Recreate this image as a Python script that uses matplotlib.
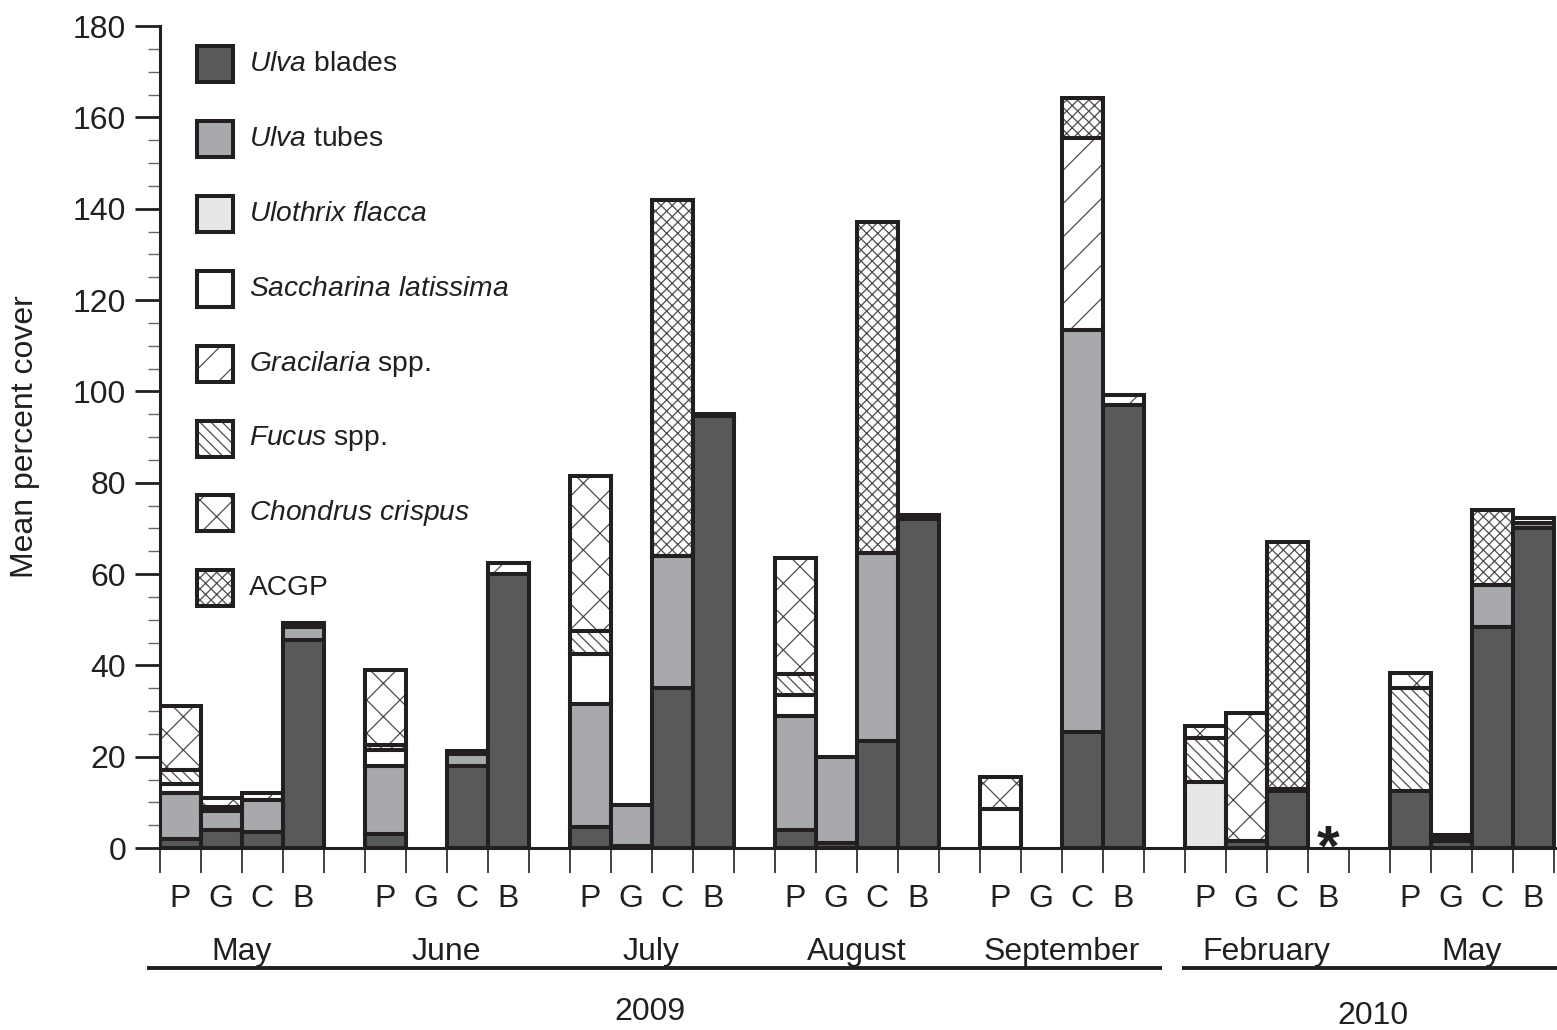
import numpy as np
import matplotlib.pyplot as plt
from matplotlib.patches import Rectangle
from matplotlib.ticker import MultipleLocator

plt.rcParams['font.family'] = ['Liberation Sans', 'DejaVu Sans']
plt.rcParams['mathtext.fontset'] = 'custom'
plt.rcParams['mathtext.it'] = 'Liberation Sans:italic'
plt.rcParams['mathtext.rm'] = 'Liberation Sans'
plt.rcParams['hatch.linewidth'] = 0.45

# Months sampled and the year they belong to
months = ["May", "June", "July", "August", "September", "February", "May"]
years = ["2009", "2010"]
months_per_year = [5, 2]
sites = ["P", "G", "C", "B"]

# Mean percent cover, 4 values (P, G, C, B) per month
ulva_blades = [2, 4, 3.5, 45.5,   3, 0, 18, 60,    4.5, 0.5, 35, 94.5,   4, 1, 23.5, 72,
               0, 0, 25.5, 97,    0, 1.5, 12.5, 0,  12.5, 1.5, 48.5, 70]
ulva_tubes = [10, 4, 7, 3,        15, 0, 2.5, 0,   27, 9, 29, 0.6,       25, 19, 41, 0,
              0, 0, 88, 0,        0, 0, 0.5, 0,     0, 0.8, 9, 1.2]
ulothrix = [0, 0, 0, 0,           0, 0, 0, 0,      0, 0, 0, 0,           0, 0, 0, 0,
            0, 0, 0, 0,           14.5, 0, 0, 0,   0, 0, 0, 0]
saccharina = [2, 1, 0, 0.7,       3.5, 0, 0.8, 0,  11, 0, 0, 0,          4.5, 0, 0, 0,
              8.5, 0, 0, 0,       0, 0, 0, 0,      0, 0.5, 0, 1]
gracilaria = [0, 0, 1.5, 0,       0, 0, 0, 2.5,    0, 0, 0, 0,           0, 0, 0, 1,
              0, 0, 42, 2.3,      0, 0, 0, 0,      0, 0, 0, 0]
fucus = [3, 0, 0, 0,              1, 0, 0, 0,      5, 0, 0, 0,           4.5, 0, 0, 0,
         0, 0, 0, 0,              9.5, 0, 0, 0,    22.5, 0, 0, 0]
chondrus = [14, 2, 0, 0,          16.5, 0, 0, 0,   34, 0, 0, 0,          25.5, 0, 0, 0,
            7, 0, 0, 0,           2.7, 28, 0, 0,   3.3, 0, 0, 0]
acgp = [0, 0, 0, 0,               0, 0, 0, 0,      0, 0, 78, 0,          0, 0, 72.5, 0,
        0, 0, 8.7, 0,             0, 0, 54, 0,     0, 0, 16.5, 0]
# bars with no data (month index, site index)
no_data = [(5, 3)]

labels = [r"$Ulva$ blades", r"$Ulva$ tubes", r"$Ulothrix\ flacca$", r"$Saccharina\ latissima$",
          r"$Gracilaria$ spp.", r"$Fucus$ spp.", r"$Chondrus\ crispus$", "ACGP"]
series = [ulva_blades, ulva_tubes, ulothrix, saccharina, gracilaria, fucus, chondrus, acgp]
fills = ['#58595b', '#a7a9ac', '#e6e7e8', 'white', 'white', 'white', 'white', 'white']
hatches = [None, None, None, None, '//', '\\' * 6, 'xx', 'x' * 6]

EDGE = '#231f20'
HATCH = '#4d4d4d'

fig = plt.figure(figsize=(15.57 / 2, 10.30 / 2), dpi=200)
ax = fig.add_axes([159.5 / 1557, 1 - 848 / 1030, 1 - 159.5 / 1557, 822 / 1030])

# bar slots: 4 sites then an empty slot between months
x = np.array([m * 5 + s for m in range(len(months)) for s in range(len(sites))], dtype=float)
bottom = np.zeros(len(x))
for vals, fc, hatch in zip(series, fills, hatches):
    vals = np.array(vals, dtype=float)
    keep = vals > 0
    ax.bar(x[keep], vals[keep], width=1, bottom=bottom[keep], align='edge', color=fc,
           edgecolor=HATCH, linewidth=0, hatch=hatch, zorder=2)
    ax.bar(x[keep], vals[keep], width=1, bottom=bottom[keep], align='edge', fill=False,
           edgecolor=EDGE, linewidth=1.45, zorder=3)
    bottom += vals

for m, s in no_data:
    ax.text(m * 5 + s + 0.5, -3.9, '*', ha='center', va='baseline', fontsize=21,
            fontweight='bold', color=EDGE, zorder=4)

ax.set_xlim(0, 34.085)
ax.set_ylim(0, 180)
for side in ['top', 'right']:
    ax.spines[side].set_visible(False)
for side in ['left', 'bottom']:
    ax.spines[side].set_linewidth(1.1)
    ax.spines[side].set_color(EDGE)

ax.set_xticks(np.arange(0, len(months) * 5))
ax.set_xticklabels([])
ax.tick_params(axis='x', which='major', length=9, width=0.6, color=EDGE)
ax.set_yticks(np.arange(0, 181, 20))
ax.yaxis.set_minor_locator(MultipleLocator(5))
ax.tick_params(axis='y', which='major', length=9, width=1.0, color=EDGE, labelsize=11.5,
               pad=3, labelcolor=EDGE)
ax.tick_params(axis='y', which='minor', length=4.5, width=0.5, color='#666666')

fig.text(25 / 1557, 1 - 437 / 1030, "Mean percent cover", rotation=90, ha='center',
         va='center', fontsize=11.5, color=EDGE)

# site letters, month names, year underlines
trans = ax.get_xaxis_transform()
for xi, s in zip(x, sites * len(months)):
    ax.text(xi + 0.5, -0.062, s, transform=trans, ha='center', va='center', fontsize=11.5,
            color=EDGE)
for m, name in enumerate(months):
    ax.text(m * 5 + 2, -0.136, name, transform=trans, ha='center', va='baseline',
            fontsize=11.5, color=EDGE)

start = 0
year_pos = [11.95, 29.6]
year_y = [-0.1995, -0.204]
for yr, n, xp, yp in zip(years, months_per_year, year_pos, year_y):
    x0 = -0.3 if start == 0 else start * 5 - 0.05
    x1 = (start + n) * 5 - 0.54 if start + n < len(months) else 34.085
    ax.plot([x0, x1], [-0.146, -0.146], transform=trans, clip_on=False, color=EDGE, lw=1.4,
            solid_capstyle='butt')
    ax.text(xp, yp, yr, transform=trans, ha='center', va='center', fontsize=11.5, color=EDGE)
    start += n

# legend drawn by hand
for i, (lab, fc, hatch) in enumerate(zip(labels, fills, hatches)):
    yc = 1 - (64 + 74.9 * i) / 1030
    box = dict(xy=(197 / 1557, yc - 18 / 1030), width=36 / 1557, height=36 / 1030,
               transform=fig.transFigure)
    fig.add_artist(Rectangle(**box, facecolor=fc, edgecolor=HATCH, linewidth=0, hatch=hatch))
    fig.add_artist(Rectangle(**box, fill=False, edgecolor=EDGE, linewidth=1.45))
    fig.text(249 / 1557, yc, lab, ha='left', va='center', fontsize=10.2, color=EDGE)

fig.savefig('out.png', dpi=200)
